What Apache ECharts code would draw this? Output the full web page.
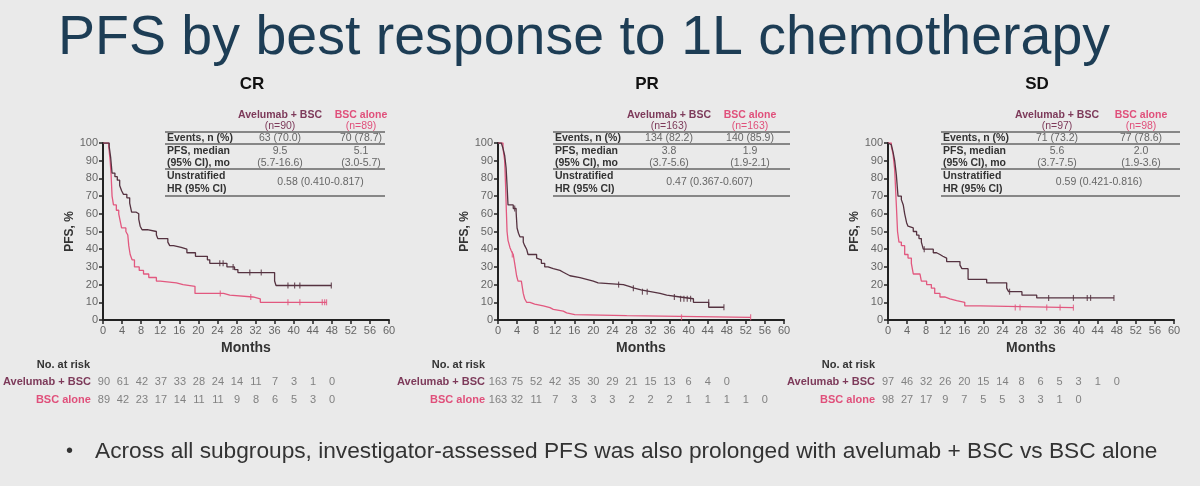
<!DOCTYPE html>
<html>
<head>
<meta charset="utf-8">
<title>PFS by best response to 1L chemotherapy</title>
<script src="https://cdn.jsdelivr.net/npm/echarts@6/dist/echarts.min.js"></script>
<style>
  html, body { margin: 0; padding: 0; background: #eaeaea; }
  #chart { width: 1200px; height: 486px; }
</style>
</head>
<body>
<div id="chart"></div>
<script>
// ---- data ----
const armNames = ['Avelumab + BSC', 'BSC alone'];
const panelNames = ['CR', 'PR', 'SD'];
const xTicks = [0, 60, 4];      // min, max, interval (months)
const yTicks = [0, 100, 10];    // min, max, interval (%)
const riskTimes = [0, 4, 8, 12, 16, 20, 24, 28, 32, 36, 40, 44, 48, 52, 56];

// CR
const crAve = [[0,100],[1.3,98],[1.6,92],[1.9,83],[2.5,81],[3.0,79],[3.5,76],[3.9,73],[4.3,71],[5.0,69],[5.6,66],[6.0,61],[6.9,60],[7.5,57],[7.8,53],[8.2,51],[9.3,50],[11.2,48],[11.5,46],[13.6,44],[14.0,42],[14.8,41],[16.4,40],[17.6,38],[19.4,36],[21.9,34],[22.4,32],[26.0,30],[27.6,28.5],[28.3,26.8],[36.0,22],[36.3,19.5],[47.9,19.5]];
const crBsc = [[0,100],[1.2,98],[1.5,90],[1.7,82],[1.9,70],[2.2,65],[2.8,62],[3.3,60],[3.6,56],[3.9,52],[4.8,50],[5.2,48],[5.4,42],[5.7,37],[6.1,34],[6.6,30],[7.6,28],[8.5,26],[9.6,24],[11.2,22],[12.0,21],[15.4,20],[16.8,19],[19.3,15],[25.3,14],[26.6,13],[31.5,12],[33.0,10],[46.9,10]];
const crAveCens = [[24.5,32],[25.2,32],[27.3,30],[30.8,26.8],[33.2,26.8],[38.8,19.5],[40.2,19.5],[41.3,19.5],[47.9,19.5]];
const crBscCens = [[24.6,15],[31.0,13],[38.8,10],[41.3,10],[46.0,10],[46.5,10],[46.9,10]];
const crRiskAve = [90, 61, 42, 37, 33, 28, 24, 14, 11, 7, 3, 1, 0];
const crRiskBsc = [89, 42, 23, 17, 14, 11, 11, 9, 8, 6, 5, 3, 0];
const crTable = ['(n=90)', '(n=89)', '63 (70.0)', '70 (78.7)', '9.5', '5.1', '(5.7-16.6)', '(3.0-5.7)', '0.58 (0.410-0.817)'];

// PR
const prAve = [[0,100],[0.7,99],[1.05,97],[1.4,93],[1.7,86],[1.9,76],[2.1,65],[3.2,63],[3.8,61],[4.0,52],[4.3,49],[4.6,47],[5.3,44],[5.6,42],[6.0,40],[6.3,37],[8.1,35],[8.4,34],[9.1,32],[9.8,30],[10.5,29],[11.6,28],[13.0,27],[13.7,26],[14.4,25],[15.1,24],[17.2,23],[18.6,22],[20.0,21],[21.0,20],[26.3,19],[27.5,18],[28.6,17],[30.0,16],[32.0,15],[34.0,14],[35.4,13],[38.2,12],[41.0,10],[44.2,7.2],[47.4,7.2]];
const prBsc = [[0,100],[1.05,97],[1.4,90],[1.6,75],[1.75,62],[1.9,50],[2.1,45],[2.5,41],[2.8,39],[3.2,37],[3.5,32],[3.9,25],[4.2,22],[4.9,21],[5.3,15],[5.6,12],[6.0,10],[6.7,9],[7.7,8],[9.5,7],[10.9,6],[11.6,5],[13.7,4],[14.4,3],[16.1,2.5],[27.0,1.5],[53.0,1.5]];
const prAveCens = [[3.5,63],[25.3,20],[28.4,18],[30.3,16],[31.3,16],[37.0,13],[38.3,12],[39.0,12],[39.7,12],[40.4,12],[44.2,10],[47.4,7.2]];
const prBscCens = [[3.0,37],[38.5,1.5],[53.0,1.5]];
const prRiskAve = [163, 75, 52, 42, 35, 30, 29, 21, 15, 13, 6, 4, 0];
const prRiskBsc = [163, 32, 11, 7, 3, 3, 3, 2, 2, 2, 1, 1, 1, 1, 0];
const prTable = ['(n=163)', '(n=163)', '134 (82.2)', '140 (85.9)', '3.8', '1.9', '(3.7-5.6)', '(1.9-2.1)', '0.47 (0.367-0.607)'];

// SD
const sdAve = [[0,100],[0.35,99],[0.7,98],[1.05,95],[1.4,90],[1.75,82],[2.1,70],[2.8,68],[3.2,65],[3.5,60],[3.9,55],[4.2,53],[4.6,52],[5.3,50],[6.0,48],[6.5,46],[7.0,44],[7.4,40],[9.5,38],[10.2,37],[10.9,36],[11.5,35],[12.3,33],[15.1,31],[15.5,29],[16.8,23],[20.7,21],[24.9,18],[25.3,16],[28.1,14],[31.2,12.5],[47.4,12.5]];
const sdBsc = [[0,100],[0.7,98],[1.05,94],[1.4,85],[1.75,65],[2.0,50],[2.3,44],[2.8,42],[3.5,37],[4.2,35],[4.9,32],[5.3,26],[6.7,25],[7.0,22],[8.1,20],[9.1,18],[9.8,15],[10.9,13],[11.9,12],[13.0,11],[14.4,10],[16.1,8],[19.4,7],[38.9,7]];
const sdAveCens = [[7.6,40],[25.5,16],[33.7,12.5],[38.9,12.5],[41.8,12.5],[42.5,12.5],[47.4,12.5]];
const sdBscCens = [[26.7,7],[27.7,7],[33.3,7],[36.1,7],[38.9,7]];
const sdRiskAve = [97, 46, 32, 26, 20, 15, 14, 8, 6, 5, 3, 1, 0];
const sdRiskBsc = [98, 27, 17, 9, 7, 5, 5, 3, 3, 1, 0];
const sdTable = ['(n=97)', '(n=98)', '71 (73.2)', '77 (78.6)', '5.6', '2.0', '(3.7-7.5)', '(1.9-3.6)', '0.59 (0.421-0.816)'];

const rowLabels = ['Events, n (%)', 'PFS, median', '(95% CI), mo', 'Unstratified', 'HR (95% CI)'];
const bulletText = 'Across all subgroups, investigator-assessed PFS was also prolonged with avelumab + BSC vs BSC alone';

// ---- look ----
const FONT = '"Liberation Sans", Arial, sans-serif';
const aveLine = '#553240';
const bscLine = '#e2587f';
const aveText = '#7d3a5a';
const bscText = '#e0507b';

// per panel: axis left x, table label x, arm column centres, table right end
const panels = [
  { left: 103, tx: 167, c1: 280, c2: 361, tr: 385, ave: crAve, bsc: crBsc, aveC: crAveCens, bscC: crBscCens, rA: crRiskAve, rB: crRiskBsc, tab: crTable },
  { left: 498, tx: 555, c1: 669, c2: 750, tr: 790, ave: prAve, bsc: prBsc, aveC: prAveCens, bscC: prBscCens, rA: prRiskAve, rB: prRiskBsc, tab: prTable },
  { left: 888, tx: 943, c1: 1057, c2: 1141, tr: 1180, ave: sdAve, bsc: sdBsc, aveC: sdAveCens, bscC: sdBscCens, rA: sdRiskAve, rB: sdRiskBsc, tab: sdTable }
];
const plotW = 286, plotTop = 143, plotH = 177;

function txt(text, x, y, font, fill, align) {
  return {
    type: 'text', silent: true,
    style: { text: text, x: x, y: y, font: font, fill: fill,
             textAlign: align || 'left', textVerticalAlign: 'middle',
             align: align || 'left', verticalAlign: 'middle' }
  };
}
function hline(x1, x2, y) {
  return { type: 'line', silent: true, shape: { x1: x1, y1: y, x2: x2, y2: y }, style: { stroke: '#666', lineWidth: 1.3 } };
}

// grids 0..2 are the KM plots, 3..5 the number-at-risk rows
const grid = [], xAxis = [], yAxis = [], series = [], graphic = [];

graphic.push(txt('PFS by best response to 1L chemotherapy', 58, 39, '55.5px ' + FONT, '#1d3d55'));
graphic.push(txt('\u2022', 66, 451, '20px ' + FONT, '#333'));
graphic.push(txt(bulletText, 95, 452, '22.7px ' + FONT, '#333'));

panels.forEach(function (p, i) {
  grid[i] = { left: p.left, top: plotTop, width: plotW, height: plotH };
  xAxis[i] = {
    gridIndex: i, type: 'value', min: xTicks[0], max: xTicks[1], interval: xTicks[2],
    name: 'Months', nameLocation: 'middle', nameGap: 21,
    nameTextStyle: { fontFamily: FONT, fontWeight: 'bold', fontSize: 14, color: '#333' },
    axisLine: { lineStyle: { color: '#222', width: 2 } },
    axisTick: { length: 4, lineStyle: { color: '#222', width: 1.5 } },
    axisLabel: { fontFamily: FONT, fontSize: 11, color: '#666', margin: 5 },
    splitLine: { show: false }
  };
  yAxis[i] = {
    gridIndex: i, type: 'value', min: yTicks[0], max: yTicks[1], interval: yTicks[2],
    name: 'PFS, %', nameLocation: 'middle', nameGap: 18, nameRotate: 90,
    nameTextStyle: { fontFamily: FONT, fontWeight: 'bold', fontSize: 12, color: '#333' },
    axisLine: { show: true, lineStyle: { color: '#222', width: 2 } },
    axisTick: { show: true, length: 4, lineStyle: { color: '#222', width: 1.5 } },
    axisLabel: { fontFamily: FONT, fontSize: 11, color: '#666', margin: 5 },
    splitLine: { show: false }
  };
  series.push(
    { type: 'line', step: 'end', xAxisIndex: i, yAxisIndex: i, data: p.bsc, symbol: 'none', silent: true,
      lineStyle: { color: bscLine, width: 1.3 } },
    { type: 'line', step: 'end', xAxisIndex: i, yAxisIndex: i, data: p.ave, symbol: 'none', silent: true,
      lineStyle: { color: aveLine, width: 1.3 } },
    { type: 'scatter', xAxisIndex: i, yAxisIndex: i, data: p.bscC, symbol: 'rect', symbolSize: [1.2, 6], silent: true,
      itemStyle: { color: bscLine } },
    { type: 'scatter', xAxisIndex: i, yAxisIndex: i, data: p.aveC, symbol: 'rect', symbolSize: [1.2, 6], silent: true,
      itemStyle: { color: aveLine } }
  );

  // number-at-risk rows, same month scale
  const g = 3 + i;
  grid[g] = { left: p.left, top: 373, width: plotW, height: 36 };
  xAxis[g] = { gridIndex: g, type: 'value', min: xTicks[0], max: xTicks[1], interval: xTicks[2], show: false };
  yAxis[g] = {
    gridIndex: g, type: 'category', data: armNames, inverse: true,
    axisLine: { show: false }, axisTick: { show: false }, splitLine: { show: false },
    axisLabel: {
      margin: 13, fontFamily: FONT, fontSize: 11, fontWeight: 'bold',
      formatter: function (v) { return v === armNames[0] ? '{a|' + v + '}' : '{b|' + v + '}'; },
      rich: { a: { color: aveText, fontWeight: 'bold', fontSize: 11, fontFamily: FONT },
              b: { color: bscText, fontWeight: 'bold', fontSize: 11, fontFamily: FONT } }
    }
  };
  [p.rA, p.rB].forEach(function (arr, k) {
    series.push({
      type: 'scatter', xAxisIndex: g, yAxisIndex: g, symbolSize: 0, silent: true,
      data: arr.map(function (n, j) { return [riskTimes[j], armNames[k], n]; }),
      label: { show: true, position: 'inside', formatter: function (q) { return q.value[2]; },
               fontFamily: FONT, fontSize: 11, color: '#666' }
    });
  });

  // titles and the summary table
  const mid = p.left + plotW / 2;
  graphic.push(txt(panelNames[i], mid + 6, 84, 'bold 17px ' + FONT, '#111', 'center'));
  graphic.push(txt('No. at risk', p.left - 13, 365, 'bold 11px ' + FONT, '#333', 'right'));

  const t = p.tab;
  graphic.push(
    txt(armNames[0], p.c1, 115, 'bold 10.5px ' + FONT, aveText, 'center'),
    txt(armNames[1], p.c2, 115, 'bold 10.5px ' + FONT, bscText, 'center'),
    txt(t[0], p.c1, 126, '10.5px ' + FONT, aveText, 'center'),
    txt(t[1], p.c2, 126, '10.5px ' + FONT, bscText, 'center'),
    hline(p.tx - 2, p.tr, 132),
    txt(rowLabels[0], p.tx, 138, 'bold 10.5px ' + FONT, '#333'),
    txt(t[2], p.c1, 138, '10.5px ' + FONT, '#666', 'center'),
    txt(t[3], p.c2, 138, '10.5px ' + FONT, '#666', 'center'),
    hline(p.tx - 2, p.tr, 144),
    txt(rowLabels[1], p.tx, 151, 'bold 10.5px ' + FONT, '#333'),
    txt(rowLabels[2], p.tx, 163, 'bold 10.5px ' + FONT, '#333'),
    txt(t[4], p.c1, 151, '10.5px ' + FONT, '#666', 'center'),
    txt(t[5], p.c2, 151, '10.5px ' + FONT, '#666', 'center'),
    txt(t[6], p.c1, 163, '10.5px ' + FONT, '#666', 'center'),
    txt(t[7], p.c2, 163, '10.5px ' + FONT, '#666', 'center'),
    hline(p.tx - 2, p.tr, 169),
    txt(rowLabels[3], p.tx, 176, 'bold 10.5px ' + FONT, '#333'),
    txt(rowLabels[4], p.tx, 189, 'bold 10.5px ' + FONT, '#333'),
    txt(t[8], (p.c1 + p.c2) / 2, 182, '10.5px ' + FONT, '#666', 'center'),
    hline(p.tx - 2, p.tr, 196)
  );
});

const chart = echarts.init(document.getElementById('chart'));
chart.setOption({
  backgroundColor: '#eaeaea',
  animation: false,
  grid: grid,
  xAxis: xAxis,
  yAxis: yAxis,
  series: series,
  graphic: graphic
});
</script>
</body>
</html>
